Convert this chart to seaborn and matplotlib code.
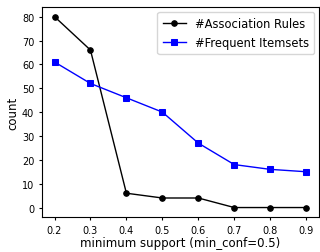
import pandas as pd
import seaborn as sns
import matplotlib.pyplot as plt

min_support = [0.2, 0.3, 0.4, 0.5, 0.6, 0.7, 0.8, 0.9]
assoc_rules = [80, 66, 6, 4, 4, 0, 0, 0]
freq_itemsets = [61, 52, 46, 40, 27, 18, 16, 15]

df = pd.DataFrame({"support": min_support, "rules": assoc_rules, "itemsets": freq_itemsets})

fig = plt.figure(figsize=(3.2, 2.53), dpi=100)
ax = fig.add_axes([0.131, 0.138, 0.865, 0.83])

sns.lineplot(data=df, x="support", y="rules", marker="o", color="black",
             markersize=4, markeredgecolor="black", linewidth=1,
             label="#Association Rules", ax=ax)
sns.lineplot(data=df, x="support", y="itemsets", marker="s", color="blue",
             markersize=4, markeredgecolor="blue", linewidth=1,
             label="#Frequent Itemsets", ax=ax)

ax.set_xticks(min_support)
ax.set_xticklabels([str(v) for v in min_support])
ax.set_yticks(range(0, 81, 10))
ax.tick_params(labelsize=7, length=2.5, pad=3)
ax.set_xlabel("minimum support (min_conf=0.5)", fontsize=8.5, labelpad=1)
ax.set_ylabel("count", fontsize=8.5, labelpad=2)
ax.legend(loc="upper right", fontsize=8.3, handlelength=2, borderpad=0.45,
          labelspacing=0.55, handletextpad=0.8, borderaxespad=0.4)

fig.savefig("out.png", dpi=100)
